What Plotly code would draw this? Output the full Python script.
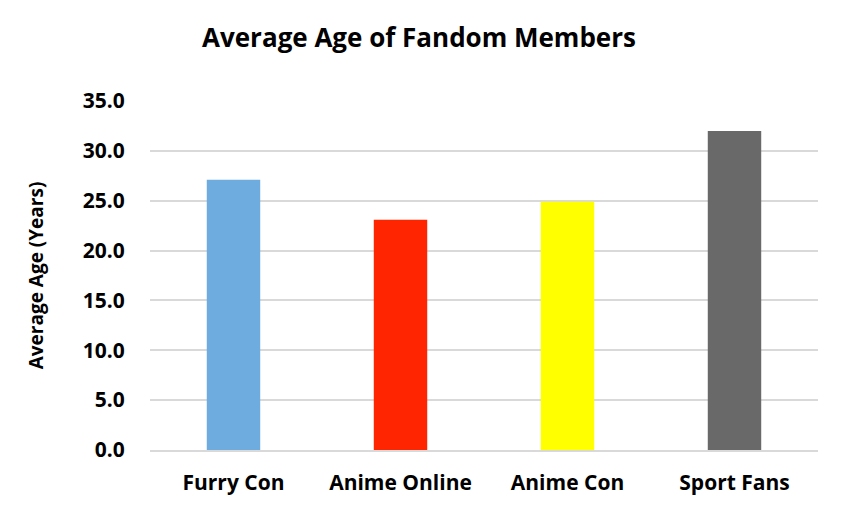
import plotly.graph_objects as go

categories = ["Furry Con", "Anime Online", "Anime Con", "Sport Fans"]
ages = [27.1, 23.1, 24.9, 32.0]
colors = ["#6EABDF", "#FF2500", "#FFFF00", "#696969"]
tick_vals = [0, 5, 10, 15, 20, 25, 30, 35]

FONT = "Open Sans"

fig = go.Figure(go.Bar(x=categories, y=ages, marker=dict(color=colors, line=dict(width=0)),
                       hoverinfo="x+y"))

fig.update_layout(
    width=844, height=522,
    margin=dict(l=142, r=34, t=93, b=80),
    paper_bgcolor="white", plot_bgcolor="white",
    bargap=0.68,
    showlegend=False,
    title=dict(text="Average Age of Fandom Members", x=411/844, xanchor="center",
               y=1 - 30/522, yanchor="middle",
               font=dict(family=FONT, size=26, color="black", weight="bold")),
    font=dict(family=FONT, color="black"),
)
fig.update_xaxes(
    tickfont=dict(family=FONT, size=21, color="black", weight="bold"),
    showline=True, linecolor="#D9D9D9", linewidth=2,
    ticks="outside", ticklen=13, tickcolor="white", showgrid=False,
)
fig.update_yaxes(
    range=[0, 35], tickvals=tick_vals, tickformat=".1f",
    tickfont=dict(family=FONT, size=21, color="black", weight="bold"),
    showgrid=True, gridcolor="#D9D9D9", gridwidth=1.5,
    zeroline=False, showline=False, ticks="outside", ticklen=20, tickcolor="white",
    title=dict(text="Average Age (Years)",
               font=dict(family=FONT, size=19, color="black", weight="bold"),
               standoff=34),
)

fig.write_html("out.html")
